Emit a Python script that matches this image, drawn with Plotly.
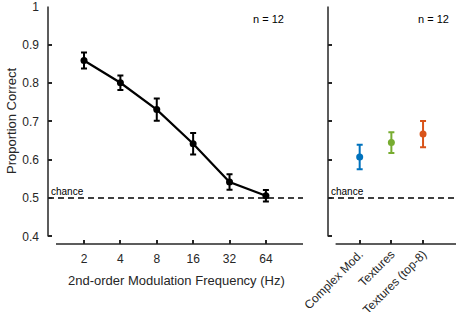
import plotly.graph_objects as go

# ---- data ----
freq_labels = ["2", "4", "8", "16", "32", "64"]
freq_pc = [0.859, 0.801, 0.731, 0.642, 0.542, 0.506]
freq_err = [0.021, 0.019, 0.029, 0.028, 0.020, 0.015]

cond_labels = ["Complex Mod.", "Textures", "Textures (top-8)"]
cond_pc = [0.607, 0.645, 0.667]
cond_err = [0.032, 0.027, 0.034]
cond_colors = ["#0072BD", "#77AC30", "#D95319"]

chance = 0.5
n_text = "n = 12"
y_ticks = [0.4, 0.5, 0.6, 0.7, 0.8, 0.9, 1.0]
y_ticktext = ["0.4", "0.5", "0.6", "0.7", "0.8", "0.9", "1"]

# ---- layout helpers ----
W, H = 459, 312
def px(x):
    return x / W
def py(y):
    return 1 - y / H

AX = "#262626"
FONT = "Liberation Sans, Arial, Helvetica, sans-serif"

fig = go.Figure()

xpos = list(range(1, len(freq_labels) + 1))
fig.add_trace(go.Scatter(
    x=xpos, y=freq_pc, mode="lines+markers",
    line=dict(color="black", width=2.2),
    marker=dict(color="black", size=7),
    error_y=dict(type="data", array=freq_err, color="black", thickness=2, width=3),
    xaxis="x", yaxis="y", showlegend=False, cliponaxis=False,
))

for i, (lab, v, e, c) in enumerate(zip(cond_labels, cond_pc, cond_err, cond_colors)):
    fig.add_trace(go.Scatter(
        x=[i + 1], y=[v], mode="markers",
        marker=dict(color=c, size=7),
        error_y=dict(type="data", array=[e], color=c, thickness=2, width=3),
        xaxis="x2", yaxis="y2", showlegend=False, cliponaxis=False,
    ))

yrange = [0.4 - 7.6 / 384, 1.0 + 0.5 / 384]
common_y = dict(range=yrange, tickvals=y_ticks, ticks="inside", ticklen=4,
                tickwidth=1.5, tickcolor=AX, showline=False, showgrid=False,
                zeroline=False, tickfont=dict(family=FONT, size=12, color=AX),
                automargin=False, ticklabeloverflow="allow")
common_x = dict(ticks="inside", ticklen=4, tickwidth=1.5, tickcolor=AX,
                showline=False, showgrid=False, zeroline=False,
                tickfont=dict(family=FONT, size=12, color=AX), automargin=False,
                ticklabeloverflow="allow")

fig.update_layout(
    width=W, height=H,
    margin=dict(l=0, r=0, t=0, b=0),
    paper_bgcolor="white", plot_bgcolor="white",
    font=dict(family=FONT, color=AX),
    xaxis=dict(domain=[px(48), px(303)], range=[0.01, 7.02], tickvals=xpos,
               ticktext=freq_labels, anchor="y", ticklabelstandoff=6, **common_x),
    yaxis=dict(domain=[py(244), py(6)], ticktext=y_ticktext, anchor="x",
               ticklabelstandoff=8, **common_y),
    xaxis2=dict(domain=[px(328), px(456)], range=[0.0, 4.04], tickvals=[1, 2, 3],
                ticktext=cond_labels, tickangle=-45, anchor="y2", **common_x),
    yaxis2=dict(domain=[py(244), py(6)], showticklabels=False, anchor="x2", **common_y),
)

shapes = []
for xa, ya, xstart, xend in [("x", "y", 0.23, 7.02), ("x2", "y2", 0.24, 4.04)]:
    # y axis line
    shapes.append(dict(type="line", xref=f"{xa} domain", yref=ya, x0=0, x1=0,
                       y0=0.4, y1=1.0, line=dict(color=AX, width=1.5)))
    # x axis line
    shapes.append(dict(type="line", xref=xa, yref=f"{ya} domain", x0=xstart, x1=xend,
                       y0=0, y1=0, line=dict(color=AX, width=1.5)))
    # chance line
    shapes.append(dict(type="line", xref=f"{xa} domain", yref=ya, x0=0, x1=1,
                       y0=chance, y1=chance, layer="below",
                       line=dict(color="black", width=1.5, dash="6px,4px")))
fig.update_layout(shapes=shapes)

ann = []
for xa_px, ya in [(49, "y"), (329, "y2")]:
    ann.append(dict(text="chance", x=px(xa_px), xref="paper", y=chance, yref=ya,
                    xanchor="left", yanchor="bottom", showarrow=False,
                    font=dict(family=FONT, size=10, color="black"), yshift=-1))
for xc in [268, 433]:
    ann.append(dict(text=n_text, x=px(xc), xref="paper", y=py(19), yref="paper",
                    xanchor="center", yanchor="middle", showarrow=False,
                    font=dict(family=FONT, size=11, color="black")))
ann.append(dict(text="Proportion Correct", x=px(12), y=py(121), xref="paper", yref="paper",
                textangle=-90, xanchor="center", yanchor="middle", showarrow=False,
                font=dict(family=FONT, size=13, color=AX)))
ann.append(dict(text="2nd-order Modulation Frequency (Hz)", x=px(176), y=py(280),
                xref="paper", yref="paper", xanchor="center", yanchor="middle",
                showarrow=False, font=dict(family=FONT, size=13, color=AX)))
fig.update_layout(annotations=ann)

fig.write_html(
    "out.html",
    config={"displayModeBar": False},
    post_script="document.body.style.margin='0';document.body.style.overflow='hidden';",
)
